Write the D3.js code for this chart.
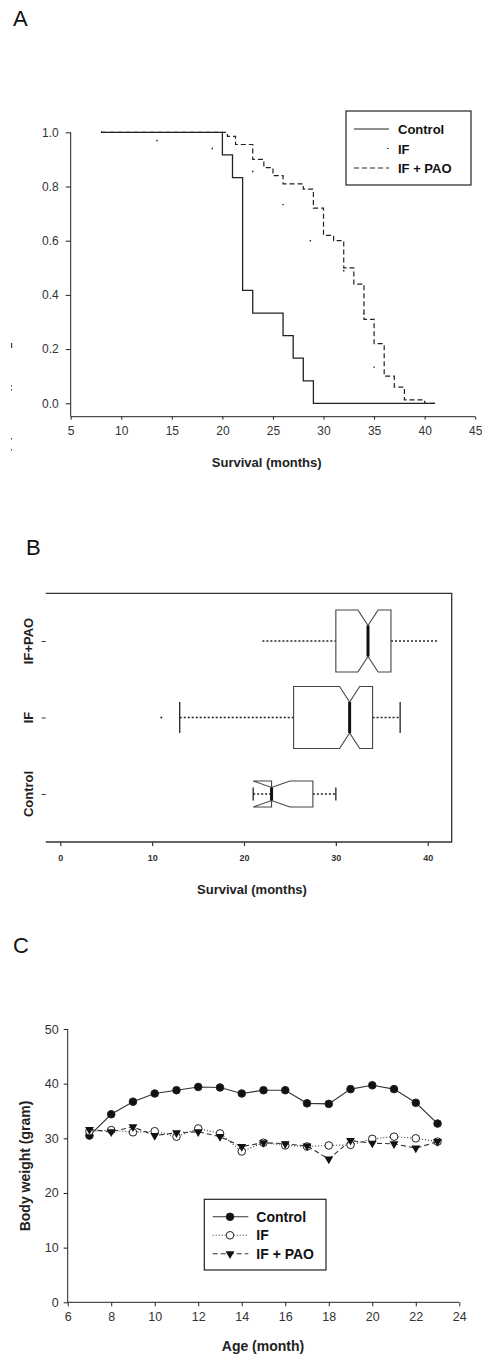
<!DOCTYPE html>
<html>
<head>
<meta charset="utf-8">
<script src="https://cdn.jsdelivr.net/npm/d3@7"></script>
<style>
  body { margin: 0; background: #fff; }
  svg { display: block; font-family: 'Liberation Sans', Arial, sans-serif; }
  .tick text { fill: #333; }
</style>
</head>
<body>
<svg id="chart" width="482" height="1355"></svg>
<script>
// ---- panel A: survival curves (step points: time, survival) ----
const controlTimes = [8, 20, 21, 22, 23, 26, 27, 28, 29, 41];
const controlSurv = [1, 0.917, 0.833, 0.417, 0.333, 0.25, 0.167, 0.083, 0, 0];
const ifTimes = [8, 10.5, 13, 19, 21, 23, 25, 26, 27, 28, 29, 30, 31, 32, 33, 34, 35, 37];
const ifSurv = [1, 0.985, 0.97, 0.94, 0.9, 0.84, 0.76, 0.67, 0.63, 0.6, 0.55, 0.53, 0.5, 0.44, 0.35, 0.25, 0.03, 0];
const ifPaoTimes = [8, 20.5, 21.3, 23, 24.1, 25, 26, 28, 29, 30, 31, 32, 33, 34, 35, 36, 37, 38, 40, 41.1];
const ifPaoSurv = [1, 0.985, 0.955, 0.9, 0.87, 0.84, 0.81, 0.79, 0.72, 0.62, 0.6, 0.5, 0.44, 0.31, 0.22, 0.1, 0.06, 0.013, 0, 0];
const survTicksX = [5, 10, 15, 20, 25, 30, 35, 40, 45];
const survTicksY = [0, 0.2, 0.4, 0.6, 0.8, 1.0];
const legendA = ['Control', 'IF', 'IF + PAO'];

// ---- panel B: notched boxplots ----
const groups = ['IF+PAO', 'IF', 'Control'];
const groupN = [68, 68, 12];
const boxQ1 = [30, 25.4, 23];
const boxMed = [33.5, 31.5, 23];
const boxQ3 = [36, 34, 27.5];
const notchHalf = [1.1, 1.1, 2.0];
const whiskLo = [22, 13, 21];
const whiskHi = [41, 37, 30];
const hasStaple = [false, true, true];
const outliers = [{ g: 'IF', v: 11 }];
const boxTicksX = [0, 10, 20, 30, 40];

// ---- panel C: body weight ----
const ages = [7, 8, 9, 10, 11, 12, 13, 14, 15, 16, 17, 18, 19, 20, 21, 22, 23];
const wControl = [30.5, 34.4, 36.7, 38.2, 38.8, 39.4, 39.3, 38.2, 38.8, 38.8, 36.4, 36.3, 39.0, 39.7, 39.0, 36.5, 32.7];
const wIF = [31.3, 31.5, 31.1, 31.3, 30.3, 31.8, 30.9, 27.6, 29.2, 28.7, 28.5, 28.7, 28.8, 29.9, 30.3, 30.0, 29.4];
const wIFPAO = [31.6, 31.2, 32.1, 30.5, 31.0, 31.2, 30.3, 28.5, 29.2, 29.0, 28.6, 26.2, 29.6, 29.1, 29.0, 28.2, 29.4];
const weightTicksX = [6, 8, 10, 12, 14, 16, 18, 20, 22, 24];
const weightTicksY = [0, 10, 20, 30, 40, 50];
const legendC = ['Control', 'IF', 'IF + PAO'];

const svg = d3.select('#chart');
const ink = '#222';

// panel letters
svg.selectAll('text.panel').data([['A', 13, 26], ['B', 26, 555], ['C', 13, 953]]).join('text')
  .classed('panel', true)
  .attr('x', d => d[1]).attr('y', d => d[2])
  .attr('font-size', 22).attr('fill', '#111')
  .text(d => d[0]);

// ================= Panel A =================
const xA = d3.scaleLinear().domain([5, 45]).range([70.7, 475.2]);
const yA = d3.scaleLinear().domain([0, 1]).range([403.3, 132.3]);
const gA = svg.append('g');

const axA = gA.append('g').attr('transform', 'translate(0,416.7)')
  .call(d3.axisBottom(xA).tickValues(survTicksX).tickSize(3).tickPadding(7).tickFormat(d3.format('d')));
axA.select('.domain').attr('d', `M${xA(5)},0H${xA(45)}`).attr('stroke', ink);
axA.selectAll('.tick line').attr('stroke', ink);
axA.selectAll('.tick text').attr('font-size', 12);

const ayA = gA.append('g').attr('transform', 'translate(70.7,0)')
  .call(d3.axisLeft(yA).tickValues(survTicksY).tickSize(5).tickPadding(7).tickFormat(d3.format('.1f')));
ayA.select('.domain').attr('d', `M0,${yA(1)}V416.7`).attr('stroke', ink);
ayA.selectAll('.tick line').attr('stroke', ink);
ayA.selectAll('.tick text').attr('font-size', 12);

gA.append('text').attr('x', 266.7).attr('y', 467).attr('text-anchor', 'middle')
  .attr('font-size', 13).attr('font-weight', 'bold').attr('fill', '#222')
  .text('Survival (months)');

// faded remains of the y title
gA.selectAll('rect.ghost').data([[11, 343, 1.2, 5], [11, 385, 1, 1.5], [11, 389, 1, 1.5], [11, 438, 1, 1.5], [11, 449, 1, 1.5]]).join('rect')
  .classed('ghost', true)
  .attr('x', d => d[0]).attr('y', d => d[1]).attr('width', d => d[2]).attr('height', d => d[3])
  .attr('fill', '#444');

const stepA = d3.line().x(d => xA(d[0])).y(d => yA(d[1])).curve(d3.curveStepAfter);
const seriesA = [
  { pts: d3.zip(controlTimes, controlSurv), dash: null, w: 1.3 },
  { pts: d3.zip(ifTimes, ifSurv), dash: '1.4 62', w: 1.4 },
  { pts: d3.zip(ifPaoTimes, ifPaoSurv), dash: '5 3', w: 1.2 }
];
gA.selectAll('path.surv').data(seriesA).join('path')
  .classed('surv', true)
  .attr('d', d => stepA(d.pts))
  .attr('fill', 'none').attr('stroke', ink)
  .attr('stroke-width', d => d.w)
  .attr('stroke-dasharray', d => d.dash);

const legA = gA.append('g').attr('transform', 'translate(346,111)');
legA.append('rect').attr('width', 125).attr('height', 74).attr('fill', '#fff').attr('stroke', ink).attr('stroke-width', 1.2);
const legARows = legA.selectAll('g.row').data(legendA).join('g').classed('row', true)
  .attr('transform', (d, i) => `translate(0,${18 + i * 19.5})`);
legARows.append('line').attr('x1', 8).attr('x2', 43)
  .attr('stroke', ink).attr('stroke-width', 1.2)
  .attr('stroke-dasharray', (d, i) => [null, '1.5 40', '5 3'][i])
  .attr('stroke-dashoffset', (d, i) => i === 1 ? -33 : 0);
legARows.append('text').attr('x', 52).attr('y', 5)
  .attr('font-size', 13).attr('font-weight', 'bold').attr('fill', '#111')
  .text(d => d);

// ================= Panel B =================
const xB = d3.scaleLinear().domain([0, 40]).range([60.3, 427.7]);
const yB = d3.scalePoint().domain(groups).range([641, 794]);
const gB = svg.append('g');

gB.append('path').attr('d', 'M45.7,593.3H451.7V842H45.7')
  .attr('fill', 'none').attr('stroke', '#333').attr('stroke-width', 1.3);

const axB = gB.append('g').attr('transform', 'translate(0,842)')
  .call(d3.axisBottom(xB).tickValues(boxTicksX).tickSize(4).tickPadding(9));
axB.select('.domain').remove();
axB.selectAll('.tick line').attr('stroke', '#333').attr('stroke-width', 1.2);
axB.selectAll('.tick text').attr('font-size', 9).attr('font-weight', 'bold');

const ayB = gB.append('g').attr('transform', 'translate(45.7,0)')
  .call(d3.axisLeft(yB).tickSize(4).tickFormat(''));
ayB.select('.domain').remove();
ayB.selectAll('.tick line').attr('stroke', '#333');
gB.selectAll('text.cat').data(groups).join('text')
  .classed('cat', true)
  .attr('transform', d => `translate(33,${yB(d)}) rotate(-90)`)
  .attr('text-anchor', 'middle')
  .attr('font-size', 13).attr('font-weight', 'bold').attr('fill', '#222')
  .text(d => d);

gB.append('text').attr('x', 252).attr('y', 894).attr('text-anchor', 'middle')
  .attr('font-size', 13).attr('font-weight', 'bold').attr('fill', '#222')
  .text('Survival (months)');

const maxN = d3.max(groupN);
const boxes = groups.map((g, i) => ({
  g, q1: boxQ1[i], med: boxMed[i], q3: boxQ3[i], nh: notchHalf[i],
  lo: whiskLo[i], hi: whiskHi[i], staple: hasStaple[i],
  h: 62 * Math.sqrt(groupN[i] / maxN)
}));

const boxG = gB.selectAll('g.box').data(boxes).join('g').classed('box', true)
  .attr('transform', d => `translate(0,${yB(d.g)})`);

// whiskers
boxG.append('line').attr('x1', d => xB(d.lo)).attr('x2', d => xB(d.q1))
  .attr('stroke', ink).attr('stroke-width', 1.3).attr('stroke-dasharray', '2 2');
boxG.append('line').attr('x1', d => xB(d.q3)).attr('x2', d => xB(d.hi))
  .attr('stroke', ink).attr('stroke-width', 1.3).attr('stroke-dasharray', '2 2');
boxG.filter(d => d.staple).selectAll('line.staple').data(d => [d.lo, d.hi].map(v => ({ v, h: d.h }))).join('line')
  .classed('staple', true)
  .attr('x1', d => xB(d.v)).attr('x2', d => xB(d.v))
  .attr('y1', d => -d.h / 4).attr('y2', d => d.h / 4)
  .attr('stroke', ink).attr('stroke-width', 1.3);

// notched box outline
boxG.append('path')
  .attr('d', d => {
    const t = -d.h / 2, b = d.h / 2, k = d.h / 4;
    const pts = [
      [d.q1, t], [d.med - d.nh, t], [d.med, t + k], [d.med + d.nh, t], [d.q3, t],
      [d.q3, b], [d.med + d.nh, b], [d.med, b - k], [d.med - d.nh, b], [d.q1, b]
    ];
    return d3.line().x(p => xB(p[0])).y(p => p[1])(pts) + 'Z';
  })
  .attr('fill', '#fff').attr('stroke', '#444').attr('stroke-width', 1.1);
boxG.append('line')
  .attr('x1', d => xB(d.med)).attr('x2', d => xB(d.med))
  .attr('y1', d => -d.h / 4).attr('y2', d => d.h / 4)
  .attr('stroke', '#111').attr('stroke-width', 3);

gB.selectAll('circle.out').data(outliers).join('circle')
  .classed('out', true)
  .attr('cx', d => xB(d.v)).attr('cy', d => yB(d.g)).attr('r', 1)
  .attr('fill', ink);

// ================= Panel C =================
const xC = d3.scaleLinear().domain([6, 24]).range([67.7, 459.3]);
const yC = d3.scaleLinear().domain([0, 50]).range([1302.3, 1029]);
const gC = svg.append('g');

const axC = gC.append('g').attr('transform', 'translate(0,1302.3)')
  .call(d3.axisBottom(xC).tickValues(weightTicksX).tickSize(4).tickPadding(6));
axC.select('.domain').attr('d', `M${xC(6)},0H${xC(24)}`).attr('stroke', ink);
axC.selectAll('.tick line').attr('stroke', ink);
axC.selectAll('.tick text').attr('font-size', 12.5);

const ayC = gC.append('g').attr('transform', 'translate(67.7,0)')
  .call(d3.axisLeft(yC).tickValues(weightTicksY).tickSize(4).tickPadding(5));
ayC.select('.domain').attr('d', `M0,${yC(50)}V${yC(0)}`).attr('stroke', ink);
ayC.selectAll('.tick line').attr('stroke', ink);
ayC.selectAll('.tick text').attr('font-size', 12.5);

gC.append('text').attr('x', 263).attr('y', 1351).attr('text-anchor', 'middle')
  .attr('font-size', 14).attr('font-weight', 'bold').attr('fill', '#222')
  .text('Age (month)');
gC.append('text').attr('transform', 'translate(30,1166) rotate(-90)').attr('text-anchor', 'middle')
  .attr('font-size', 14).attr('font-weight', 'bold').attr('fill', '#222')
  .text('Body weight (gram)');

const seriesC = [
  { vals: wControl, dash: null, marker: 'fill' },
  { vals: wIF, dash: '1 2', marker: 'open' },
  { vals: wIFPAO, dash: '5 3', marker: 'tri' }
];
const lineC = d3.line().x(d => xC(d[0])).y(d => yC(d[1]));
const triPath = d3.symbol(d3.symbolTriangle, 34)();

function drawMarker(sel, kind) {
  if (kind === 'tri') {
    sel.append('path').attr('d', triPath).attr('transform', 'rotate(180)').attr('fill', '#111');
  } else {
    sel.append('circle').attr('r', 3.8)
      .attr('fill', kind === 'fill' ? '#111' : '#fff')
      .attr('stroke', '#222').attr('stroke-width', 1);
  }
}

const serG = gC.selectAll('g.series').data(seriesC).join('g').classed('series', true);
serG.append('path')
  .attr('d', d => lineC(d3.zip(ages, d.vals)))
  .attr('fill', 'none').attr('stroke', '#333').attr('stroke-width', 1.1)
  .attr('stroke-dasharray', d => d.dash);
serG.each(function (s) {
  d3.select(this).selectAll('g.pt').data(d3.zip(ages, s.vals)).join('g').classed('pt', true)
    .attr('transform', d => `translate(${xC(d[0])},${yC(d[1])})`)
    .call(drawMarker, s.marker);
});

const legC = gC.append('g').attr('transform', 'translate(204.3,1199.3)');
legC.append('rect').attr('width', 121.7).attr('height', 70.7).attr('fill', '#fff').attr('stroke', ink).attr('stroke-width', 1.2);
const legCRows = legC.selectAll('g.row').data(legendC).join('g').classed('row', true)
  .attr('transform', (d, i) => `translate(0,${17.5 + i * 18.5})`);
legCRows.append('line').attr('x1', 8.4).attr('x2', 44)
  .attr('stroke', '#333').attr('stroke-width', 1.1)
  .attr('stroke-dasharray', (d, i) => seriesC[i].dash);
legCRows.append('g').attr('transform', 'translate(25.7,0)')
  .each(function (d, i) { d3.select(this).call(drawMarker, seriesC[i].marker); });
legCRows.append('text').attr('x', 52).attr('y', 5)
  .attr('font-size', 14).attr('font-weight', 'bold').attr('fill', '#111')
  .text(d => d);
</script>
</body>
</html>
